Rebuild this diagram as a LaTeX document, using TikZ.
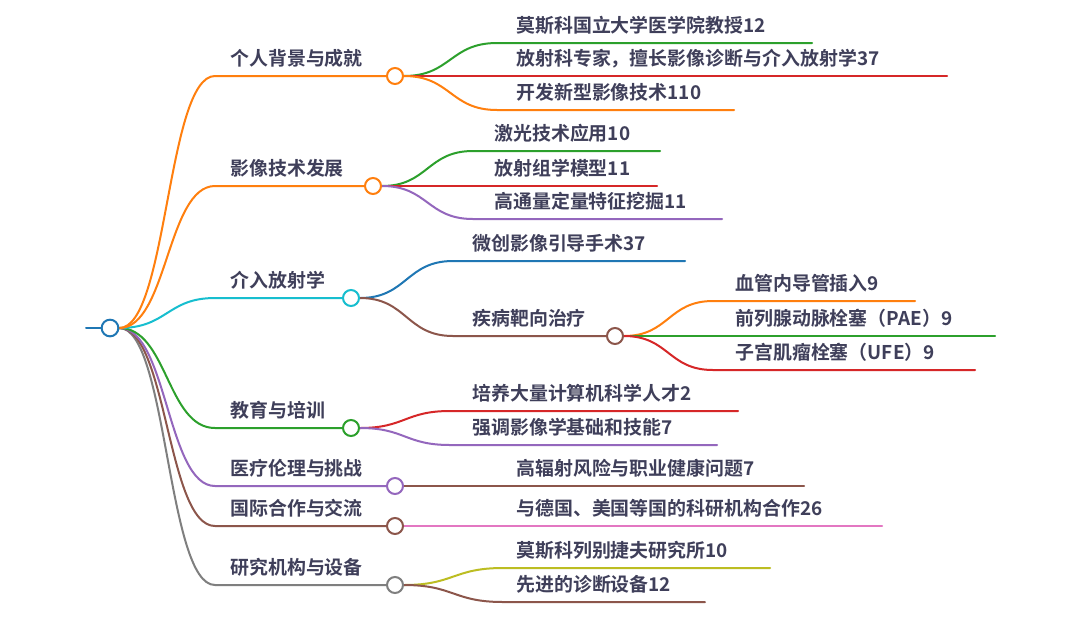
\documentclass[tikz,border=0pt]{standalone}
\usepackage{fontspec}
\setmainfont{Noto Sans CJK SC}[BoldFont={Noto Sans CJK SC Bold}]
\usetikzlibrary{backgrounds}
\definecolor{corange}{HTML}{FF7F0E}
\definecolor{cgreen}{HTML}{2CA02C}
\definecolor{cred}{HTML}{D62728}
\definecolor{cpurple}{HTML}{9467BD}
\definecolor{cbrown}{HTML}{8C564B}
\definecolor{cpink}{HTML}{E377C2}
\definecolor{cgray}{HTML}{7F7F7F}
\definecolor{colive}{HTML}{BCBD22}
\definecolor{ccyan}{HTML}{17BECF}
\definecolor{cblue}{HTML}{1F77B4}
\definecolor{txt}{HTML}{3F3F5A}
\begin{document}
\begin{tikzpicture}[x=0.75pt,y=-0.75pt,
  ln/.style={line width=1.5pt, line cap=round},
  dot/.style={circle, draw, fill=white, line width=1.5pt, minimum size=12pt, inner sep=0pt},
  lbl/.style={anchor=base west, inner sep=0pt, text=txt, font=\fontsize{14.2pt}{16pt}\selectfont\bfseries},
]
\useasboundingbox (0,0) rectangle (1080,618);

% circles
\node[dot, draw=cblue, minimum size=12.5pt] (r) at (110,328) {};
\node[dot, draw=corange] (cA) at (395,76) {};
\node[dot, draw=corange] (cB) at (373,186) {};
\node[dot, draw=ccyan] (cC) at (351,298) {};
\node[dot, draw=cbrown] (cC2) at (615,336) {};
\node[dot, draw=cgreen] (cD) at (351,428) {};
\node[dot, draw=cpurple] (cE) at (395,486) {};
\node[dot, draw=cbrown] (cF) at (395,526) {};
\node[dot, draw=cgray] (cG) at (395,585) {};

% labels level 1
\node[lbl] (tA) at (230,65) {个人背景与成就};
\node[lbl] (tB) at (230,175) {影像技术发展};
\node[lbl] (tC) at (230,287) {介入放射学};
\node[lbl] (tD) at (230,417) {教育与培训};
\node[lbl] (tE) at (230,475) {医疗伦理与挑战};
\node[lbl] (tF) at (230,515) {国际合作与交流};
\node[lbl] (tG) at (230,574) {研究机构与设备};

% labels level 2
\node[lbl] (tA1) at (516,32) {莫斯科国立大学医学院教授12};
\node[lbl] (tA2) at (516,65) {放射科专家，擅长影像诊断与介入放射学37};
\node[lbl] (tA3) at (516,99) {开发新型影像技术110};
\node[lbl] (tB1) at (494,140) {激光技术应用10};
\node[lbl] (tB2) at (494,175) {放射组学模型11};
\node[lbl] (tB3) at (494,208) {高通量定量特征挖掘11};
\node[lbl] (tC1) at (472,250) {微创影像引导手术37};
\node[lbl] (tC2) at (472,325) {疾病靶向治疗};
\node[lbl] (tC21) at (735,290) {血管内导管插入9};
\node[lbl] (tC22) at (735,325) {前列腺动脉栓塞（PAE）9};
\node[lbl] (tC23) at (735,359) {子宫肌瘤栓塞（UFE）9};
\node[lbl] (tD1) at (472,400) {培养大量计算机科学人才2};
\node[lbl] (tD2) at (472,434) {强调影像学基础和技能7};
\node[lbl] (tE1) at (516,475) {高辐射风险与职业健康问题7};
\node[lbl] (tF1) at (516,515) {与德国、美国等国的科研机构合作26};
\node[lbl] (tG1) at (516,557) {莫斯科列别捷夫研究所10};
\node[lbl] (tG2) at (516,591) {先进的诊断设备12};

% coordinates
\coordinate (r0) at (86,328);
\coordinate (kA) at (215,76);
\coordinate (kB) at (215,186);
\coordinate (kC) at (215,298);
\coordinate (kD) at (215,428);
\coordinate (kE) at (215,486);
\coordinate (kF) at (215,526);
\coordinate (kG) at (215,585);
\coordinate (kA1) at (497,43);  \coordinate (eA1) at (812,43);
\coordinate (eA2) at (947,76);
\coordinate (kA3) at (497,110); \coordinate (eA3) at (734,110);
\coordinate (kB1) at (473,151); \coordinate (eB1) at (660,151);
\coordinate (eB2) at (657,186);
\coordinate (kB3) at (473,219); \coordinate (eB3) at (722,219);
\coordinate (kC1) at (453,261); \coordinate (eC1) at (685,261);
\coordinate (kC2) at (453,336);
\coordinate (kC21) at (713,301); \coordinate (eC21) at (915,301);
\coordinate (eC22) at (995,336);
\coordinate (kC23) at (713,370); \coordinate (eC23) at (975,370);
\coordinate (kD1) at (450,411); \coordinate (eD1) at (738,411);
\coordinate (kD2) at (450,445); \coordinate (eD2) at (717,445);
\coordinate (eE1) at (804,486);
\coordinate (eF1) at (882,526);
\coordinate (kG1) at (503,568); \coordinate (eG1) at (770,568);
\coordinate (kG2) at (503,602); \coordinate (eG2) at (705,602);

\begin{pgfonlayer}{background}
\fill[white] (0,0) rectangle (1080,618);
\draw[ln, cblue] (r0) -- (r.west);
% root to level 1
\draw[ln, cgray] (r.east) .. controls +(48,0) and +(-48,0) .. (kG) -- (cG.west);
\draw[ln, cbrown] (r.east) .. controls +(48,0) and +(-48,0) .. (kF) -- (cF.west);
\draw[ln, cpurple] (r.east) .. controls +(48,0) and +(-48,0) .. (kE) -- (cE.west);
\draw[ln, cgreen] (r.east) .. controls +(48,0) and +(-48,0) .. (kD) -- (cD.west);
\draw[ln, ccyan] (r.east) .. controls +(48,0) and +(-48,0) .. (kC) -- (cC.west);
\draw[ln, corange] (r.east) .. controls +(48,0) and +(-48,0) .. (kB) -- (cB.west);
\draw[ln, corange] (r.east) .. controls +(48,0) and +(-48,0) .. (kA) -- (cA.west);
% A
\draw[ln, cgreen] (cA.east) .. controls +(47,0) and +(-47,0) .. (kA1) -- (eA1);
\draw[ln, cred] (cA.east) -- (eA2);
\draw[ln, corange] (cA.east) .. controls +(47,0) and +(-47,0) .. (kA3) -- (eA3);
% B
\draw[ln, cgreen] (cB.east) .. controls +(46,0) and +(-46,0) .. (kB1) -- (eB1);
\draw[ln, cred] (cB.east) -- (eB2);
\draw[ln, cpurple] (cB.east) .. controls +(46,0) and +(-46,0) .. (kB3) -- (eB3);
% C
\draw[ln, cblue] (cC.east) .. controls +(47,0) and +(-47,0) .. (kC1) -- (eC1);
\draw[ln, cbrown] (cC.east) .. controls +(47,0) and +(-47,0) .. (kC2) -- (cC2.west);
\draw[ln, corange] (cC2.east) .. controls +(45,0) and +(-45,0) .. (kC21) -- (eC21);
\draw[ln, cgreen] (cC2.east) -- (eC22);
\draw[ln, cred] (cC2.east) .. controls +(45,0) and +(-45,0) .. (kC23) -- (eC23);
% D
\draw[ln, cred] (cD.east) .. controls +(45,0) and +(-45,0) .. (kD1) -- (eD1);
\draw[ln, cpurple] (cD.east) .. controls +(45,0) and +(-45,0) .. (kD2) -- (eD2);
% E, F
\draw[ln, cbrown] (cE.east) -- (eE1);
\draw[ln, cpink] (cF.east) -- (eF1);
% G
\draw[ln, colive] (cG.east) .. controls +(50,0) and +(-50,0) .. (kG1) -- (eG1);
\draw[ln, cbrown] (cG.east) .. controls +(50,0) and +(-50,0) .. (kG2) -- (eG2);
\end{pgfonlayer}
\end{tikzpicture}
\end{document}
